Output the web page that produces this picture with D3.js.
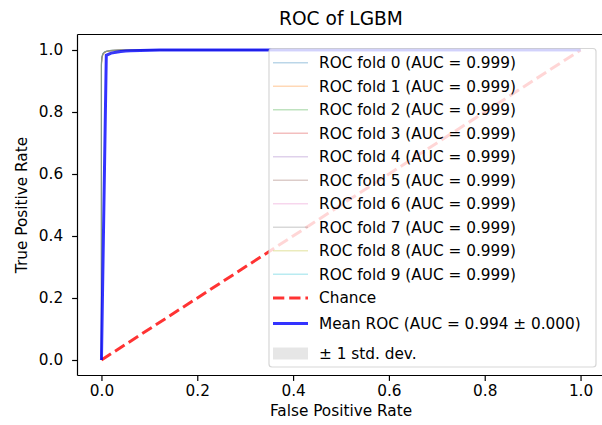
<!DOCTYPE html>
<html>
<head>
<meta charset="utf-8">
<script src="https://cdn.jsdelivr.net/npm/d3@7"></script>
<style>
  body { margin: 0; background: #fff; }
  text { font-family: "DejaVu Sans", sans-serif; fill: #000; }
</style>
</head>
<body>
<div id="chart"></div>
<script>
// per-fold ROC points (all folds share the fpr grid)
foldFpr = [0, 0, 0.001, 0.003, 0.006, 0.01, 0.02, 0.04, 1]
foldTpr = [
  [0, 0.960, 0.978, 0.988, 0.993, 0.996, 0.998, 1, 1],
  [0, 0.955, 0.975, 0.986, 0.992, 0.995, 0.998, 1, 1],
  [0, 0.962, 0.980, 0.989, 0.994, 0.996, 0.999, 1, 1],
  [0, 0.950, 0.972, 0.985, 0.991, 0.995, 0.998, 1, 1],
  [0, 0.958, 0.977, 0.987, 0.993, 0.996, 0.998, 1, 1],
  [0, 0.953, 0.974, 0.986, 0.992, 0.995, 0.998, 1, 1],
  [0, 0.961, 0.979, 0.988, 0.993, 0.996, 0.999, 1, 1],
  [0, 0.957, 0.976, 0.987, 0.992, 0.996, 0.998, 1, 1],
  [0, 0.952, 0.973, 0.985, 0.991, 0.995, 0.998, 1, 1],
  [0, 0.959, 0.978, 0.988, 0.993, 0.996, 0.999, 1, 1]
]
foldAuc = [0.999, 0.999, 0.999, 0.999, 0.999, 0.999, 0.999, 0.999, 0.999, 0.999]
foldColors = ["#1f77b4", "#ff7f0e", "#2ca02c", "#d62728", "#9467bd", "#8c564b", "#e377c2", "#7f7f7f", "#bcbd22", "#17becf"]

// mean ROC (interpolated)
meanFpr = [0, 0.0101, 0.0202, 0.0303, 0.0404, 0.0505, 0.0606, 0.0808, 0.101, 0.1212, 0.1515, 1]
meanTpr = [0, 0.983, 0.990, 0.993, 0.995, 0.9965, 0.9975, 0.9985, 0.9992, 0.9996, 1, 1]
stdTpr  = [0, 0.002, 0.0015, 0.001, 0.001, 0.0008, 0.0006, 0.0004, 0.0003, 0.0002, 0, 0]
meanAuc = 0.994
stdAuc = 0.000

chanceX = [0, 1]
chanceY = [0, 1]

ticks = [0, 0.2, 0.4, 0.6, 0.8, 1.0]

const W = 602, H = 425;
const margin = { top: 34.5, right: -2.5, bottom: 49.5, left: 77.5 };
const fs = 15.3;

const svg = d3.select("#chart").append("svg")
  .attr("width", W).attr("height", H);

const x = d3.scaleLinear().domain([-0.05, 1.05]).range([margin.left, W - margin.right]);
const y = d3.scaleLinear().domain([-0.05, 1.05]).range([H - margin.bottom, margin.top]);

svg.append("defs").append("clipPath").attr("id", "plotclip")
  .append("rect")
  .attr("x", margin.left).attr("y", margin.top)
  .attr("width", W - margin.right - margin.left)
  .attr("height", H - margin.bottom - margin.top);

const plot = svg.append("g").attr("clip-path", "url(#plotclip)");

const line = d3.line().x(d => x(d[0])).y(d => y(d[1]));

// folds
foldTpr.forEach(function (tpr, i) {
  plot.append("path")
    .datum(foldFpr.map((f, j) => [f, tpr[j]]))
    .attr("fill", "none")
    .attr("stroke", foldColors[i])
    .attr("stroke-opacity", 0.3)
    .attr("stroke-width", 1.1)
    .attr("d", line);
});

// chance
plot.append("path")
  .datum(chanceX.map((v, j) => [v, chanceY[j]]))
  .attr("fill", "none")
  .attr("stroke", "#ff0000")
  .attr("stroke-opacity", 0.8)
  .attr("stroke-width", 3)
  .attr("stroke-dasharray", "11.3,4.9")
  .attr("d", line);

// mean
plot.append("path")
  .datum(meanFpr.map((f, j) => [f, meanTpr[j]]))
  .attr("fill", "none")
  .attr("stroke", "#0000ff")
  .attr("stroke-opacity", 0.8)
  .attr("stroke-width", 3)
  .attr("d", line);

// std band
const area = d3.area()
  .x(d => x(d.f))
  .y0(d => y(Math.max(d.m - d.s, 0)))
  .y1(d => y(Math.min(d.m + d.s, 1)));
plot.append("path")
  .datum(meanFpr.map((f, j) => ({ f: f, m: meanTpr[j], s: stdTpr[j] })))
  .attr("fill", "grey")
  .attr("fill-opacity", 0.2)
  .attr("d", area);

// axes
const xAxis = svg.append("g")
  .attr("transform", "translate(0," + (H - margin.bottom) + ")")
  .call(d3.axisBottom(x).tickValues(ticks).tickFormat(d3.format(".1f")).tickSize(5.4).tickPadding(4));
const yAxis = svg.append("g")
  .attr("transform", "translate(" + margin.left + ",0)")
  .call(d3.axisLeft(y).tickValues(ticks).tickFormat(d3.format(".1f")).tickSize(5.4).tickPadding(9));
[xAxis, yAxis].forEach(function (a) {
  a.select(".domain").remove();
  a.selectAll(".tick line").attr("stroke", "#000").attr("stroke-width", 1.2);
  a.selectAll(".tick text").style("font-size", fs + "px").attr("font-family", "DejaVu Sans").attr("fill", "#000");
});

// spines
const sp = svg.append("g").attr("stroke", "#000").attr("stroke-width", 1.2);
sp.append("line").attr("x1", margin.left).attr("x2", margin.left).attr("y1", margin.top).attr("y2", H - margin.bottom);
sp.append("line").attr("x1", margin.left).attr("x2", W - margin.right).attr("y1", H - margin.bottom).attr("y2", H - margin.bottom);
sp.append("line").attr("x1", margin.left).attr("x2", W - margin.right).attr("y1", margin.top).attr("y2", margin.top);
sp.append("line").attr("x1", W - margin.right).attr("x2", W - margin.right).attr("y1", margin.top).attr("y2", H - margin.bottom);

// labels
svg.append("text")
  .attr("x", (margin.left + W - margin.right) / 2).attr("y", 25)
  .attr("text-anchor", "middle").style("font-size", "18.6px")
  .text("ROC of LGBM");
svg.append("text")
  .attr("x", (margin.left + W - margin.right) / 2).attr("y", 416)
  .attr("text-anchor", "middle").style("font-size", fs + "px")
  .text("False Positive Rate");
svg.append("text")
  .attr("transform", "translate(27," + ((margin.top + H - margin.bottom) / 2) + ") rotate(-90)")
  .attr("text-anchor", "middle").style("font-size", fs + "px")
  .text("True Positive Rate");

// legend
const fmt = d3.format(".3f");
const items = foldAuc.map((a, i) => ({ type: "fold", color: foldColors[i], label: "ROC fold " + i + " (AUC = " + fmt(a) + ")" }));
items.push({ type: "chance", label: "Chance" });
items.push({ type: "mean", label: "Mean ROC (AUC = " + fmt(meanAuc) + " \u00b1 " + fmt(stdAuc) + ")" });
items.push({ type: "std", label: "\u00b1 1 std. dev." });

const lgX = 269, lgY = 48.5, lgW = 327, lgH = 318.5;
const rowTop = 62.7, rowStep = 23.5;
function rowY(i) {
  if (i < 10) return rowTop + i * rowStep;
  if (i === 10) return rowTop + 9 * rowStep + 23.7;
  if (i === 11) return rowTop + 9 * rowStep + 49.3;
  return rowTop + 9 * rowStep + 79.3;
}

const lg = svg.append("g");
lg.append("rect")
  .attr("x", lgX).attr("y", lgY).attr("width", lgW).attr("height", lgH)
  .attr("rx", 3).attr("fill", "#fff").attr("fill-opacity", 0.8)
  .attr("stroke", "#cccccc").attr("stroke-opacity", 0.8).attr("stroke-width", 1.2);

items.forEach(function (d, i) {
  const ry = rowY(i);
  if (d.type === "fold") {
    lg.append("line").attr("x1", 273).attr("x2", 308).attr("y1", ry).attr("y2", ry)
      .attr("stroke", d.color).attr("stroke-opacity", 0.3).attr("stroke-width", 1.5);
  } else if (d.type === "chance") {
    lg.append("line").attr("x1", 273).attr("x2", 308).attr("y1", ry).attr("y2", ry)
      .attr("stroke", "#ff0000").attr("stroke-opacity", 0.8).attr("stroke-width", 3)
      .attr("stroke-dasharray", "11.3,4.9");
  } else if (d.type === "mean") {
    lg.append("line").attr("x1", 273).attr("x2", 308).attr("y1", ry).attr("y2", ry)
      .attr("stroke", "#0000ff").attr("stroke-opacity", 0.8).attr("stroke-width", 3);
  } else {
    lg.append("rect").attr("x", 273).attr("y", ry - 6).attr("width", 35).attr("height", 12)
      .attr("fill", "grey").attr("fill-opacity", 0.2);
  }
  lg.append("text")
    .attr("x", 319).attr("y", ry).attr("dy", "0.36em")
    .style("font-size", fs + "px")
    .text(d.label);
});
</script>
</body>
</html>
